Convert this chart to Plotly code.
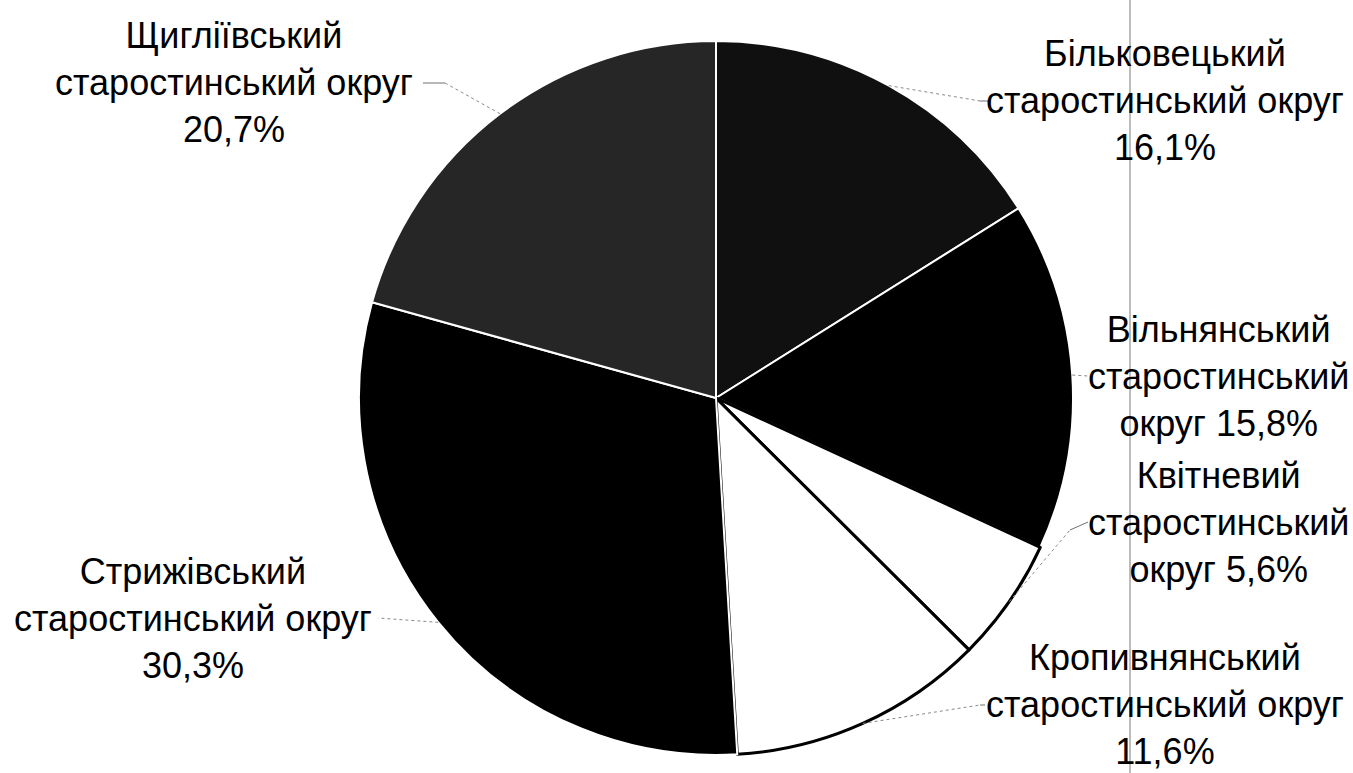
import math
import plotly.graph_objects as go

# ---- data ----
districts = ["Більковецький", "Вільнянський", "Квітневий",
             "Кропивнянський", "Стрижівський", "Щигліївський"]
shares = [16.1, 15.8, 5.6, 11.6, 30.3, 20.7]
share_labels = ["16,1%", "15,8%", "5,6%", "11,6%", "30,3%", "20,7%"]
suffix_word1 = "старостинський"
suffix_word2 = "округ"

# ---- styling ----
fill_colors = ["#101010", "#000000", "#ffffff", "#ffffff", "#000000", "#262626"]
edge_colors = ["#ffffff", "#ffffff", "#000000", "#000000", "#ffffff", "#ffffff"]
edge_widths = [2, 2, 3, 3, 2, 2]

W, H = 1353, 773
CX, CY, R = 716, 398, 357

def px(x):
    return x / W

def py(y):
    return 1 - y / H

# label block centers (pixels), leader elbows and leader ends (pixels)
label_pos = [(1165, 101), (1218, 376), (1218, 522), (1165, 704), (193, 618), (234, 83)]
narrow = [False, True, True, False, False, False]
elbow = [(980, 101), (1088, 376), (1070, 530), (980, 705), (378, 618), (445, 83)]
text_end = [(990, 101), (1088, 376), (1088, 522), (985, 705), (378, 618), (423, 83)]

fig = go.Figure(go.Pie(
    values=shares,
    labels=districts,
    sort=False,
    direction="clockwise",
    rotation=0,
    textinfo="none",
    hoverinfo="skip",
    showlegend=False,
    marker=dict(colors=fill_colors, line=dict(color=edge_colors, width=edge_widths)),
    domain=dict(x=[px(CX - R), px(CX + R)], y=[py(CY + R), py(CY - R)]),
))

shapes = []
annotations = []
total = sum(shares)
cum = 0.0
for i, (name, v, lab) in enumerate(zip(districts, shares, share_labels)):
    mid = (cum + v / 2) / total * 2 * math.pi
    cum += v
    ex = CX + R * math.sin(mid)
    ey = CY - R * math.cos(mid)
    bx, by = elbow[i]
    tx, ty = text_end[i]
    shapes.append(dict(type="line", xref="paper", yref="paper",
                       x0=px(ex), y0=py(ey), x1=px(bx), y1=py(by),
                       line=dict(color="#8a8a8a", width=1, dash="dot")))
    shapes.append(dict(type="line", xref="paper", yref="paper",
                       x0=px(bx), y0=py(by), x1=px(tx), y1=py(ty),
                       line=dict(color="#707070", width=1)))
    lx, ly = label_pos[i]
    if narrow[i]:
        text = f"{name}<br>{suffix_word1}<br>{suffix_word2} {lab}"
    else:
        text = f"{name}<br>{suffix_word1} {suffix_word2}<br>{lab}"
    annotations.append(dict(
        x=px(lx), y=py(ly), xref="paper", yref="paper",
        xanchor="center", yanchor="middle", align="center",
        showarrow=False,
        text=text,
        font=dict(family="Arial, Liberation Sans, sans-serif", size=36, color="#000000"),
    ))

# scan artifact: thin vertical line
shapes.append(dict(type="line", xref="paper", yref="paper",
                   x0=px(1130), x1=px(1130), y0=0, y1=1,
                   line=dict(color="#7a7a7a", width=1), layer="above"))

fig.update_layout(
    width=W, height=H,
    margin=dict(l=0, r=0, t=0, b=0),
    paper_bgcolor="white", plot_bgcolor="white",
    shapes=shapes, annotations=annotations,
)

fig.write_html("out.html", config={"displayModeBar": False},
               post_script="document.body.style.margin='0';")
